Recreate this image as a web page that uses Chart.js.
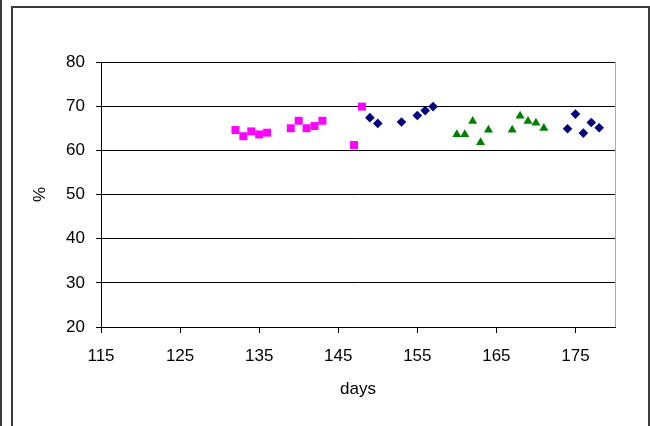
<!DOCTYPE html>
<html>
<head>
<meta charset="utf-8">
<script src="https://cdn.jsdelivr.net/npm/chart.js@4"></script>
<style>
  html, body { margin: 0; padding: 0; background: #fff; }
  #wrap { position: relative; width: 650px; height: 426px; overflow: hidden; }
  #edge { position: absolute; left: 0; top: 0; width: 2px; height: 426px; background: #3c3c3c; }
  #frame { position: absolute; left: 11px; top: 6px; width: 635px; height: 440px;
           border-left: 2px solid #3c3c3c; border-top: 2px solid #3c3c3c; border-right: 2px solid #3c3c3c; }
  #chart { position: absolute; left: 0; top: 0; }
</style>
</head>
<body>
<div id="wrap">
  <div id="edge"></div>
  <div id="frame"></div>
  <canvas id="chart" width="650" height="426"></canvas>
</div>
<script>
// values
const xTicks = [115, 125, 135, 145, 155, 165, 175];
const yTicks = [20, 30, 40, 50, 60, 70, 80];

const pinkDays   = [132, 133, 134, 135, 136, 139, 140, 141, 142, 143, 147, 148];
const pinkValues = [64.6, 63.2, 64.3, 63.6, 64.0, 65.0, 66.7, 65.0, 65.5, 66.7, 61.2, 69.9];

const navyDays   = [149, 150, 153, 155, 156, 157, 174, 175, 176, 177, 178];
const navyValues = [67.4, 66.1, 66.4, 67.9, 69.0, 69.9, 64.9, 68.2, 63.9, 66.3, 65.1];

const greenDays   = [160, 161, 162, 163, 164, 167, 168, 169, 170, 171];
const greenValues = [63.6, 63.6, 66.6, 61.8, 64.6, 64.6, 67.8, 66.6, 66.2, 65.0];

const pts = (xs, ys) => xs.map((x, i) => ({ x, y: ys[i] }));
const FONT = { family: "'Liberation Sans', Arial, sans-serif", size: 17 };

// right edge of the plot area (Excel draws it in light grey)
const plotEdge = {
  id: "plotEdge",
  beforeDatasetsDraw(chart) {
    const { ctx, chartArea: a } = chart;
    ctx.save();
    ctx.strokeStyle = "#a8a8a8";
    ctx.lineWidth = 1;
    ctx.beginPath();
    ctx.moveTo(Math.round(a.right) + 0.5, a.top);
    ctx.lineTo(Math.round(a.right) + 0.5, a.bottom);
    ctx.stroke();
    ctx.restore();
  },
};

new Chart(document.getElementById("chart"), {
  type: "scatter",
  data: {
    datasets: [
      { label: "pink", data: pts(pinkDays, pinkValues), pointStyle: "rect",
        pointRadius: 5.6, backgroundColor: "#ff00ff", borderWidth: 0 },
      { label: "navy", data: pts(navyDays, navyValues), pointStyle: "rectRot",
        pointRadius: 4.8, backgroundColor: "#000080", borderWidth: 0 },
      { label: "green", data: pts(greenDays, greenValues), pointStyle: "triangle",
        pointRadius: 5.2, backgroundColor: "#008000", borderWidth: 0 },
    ],
  },
  options: {
    responsive: false,
    animation: false,
    events: [],
    layout: { padding: { left: 0, right: 35, top: 62, bottom: 0 } },
    plugins: { legend: { display: false }, tooltip: { enabled: false } },
    scales: {
      x: {
        type: "linear",
        min: 115,
        max: 180,
        afterBuildTicks: (s) => { s.ticks = xTicks.map((v) => ({ value: v })); },
        afterFit: (s) => { s.height = 99; },
        grid: { drawOnChartArea: false, drawTicks: true, tickLength: 6, color: "#000" },
        border: { color: "#000", width: 1 },
        ticks: { color: "#000", font: FONT, padding: 13, maxRotation: 0 },
        title: { display: true, text: "days", color: "#000", font: FONT, padding: { top: 4, bottom: 26 } },
      },
      y: {
        min: 20,
        max: 80,
        afterBuildTicks: (s) => { s.ticks = yTicks.map((v) => ({ value: v })); },
        afterFit: (s) => { s.width = 101; },
        grid: { color: "#000", tickLength: 5, tickColor: "#000" },
        border: { color: "#000", width: 1 },
        ticks: { color: "#000", font: FONT, padding: 11 },
        title: { display: true, text: "%", color: "#000", font: FONT, padding: { top: 30, bottom: 4 } },
      },
    },
  },
  plugins: [plotEdge],
});
</script>
</body>
</html>
